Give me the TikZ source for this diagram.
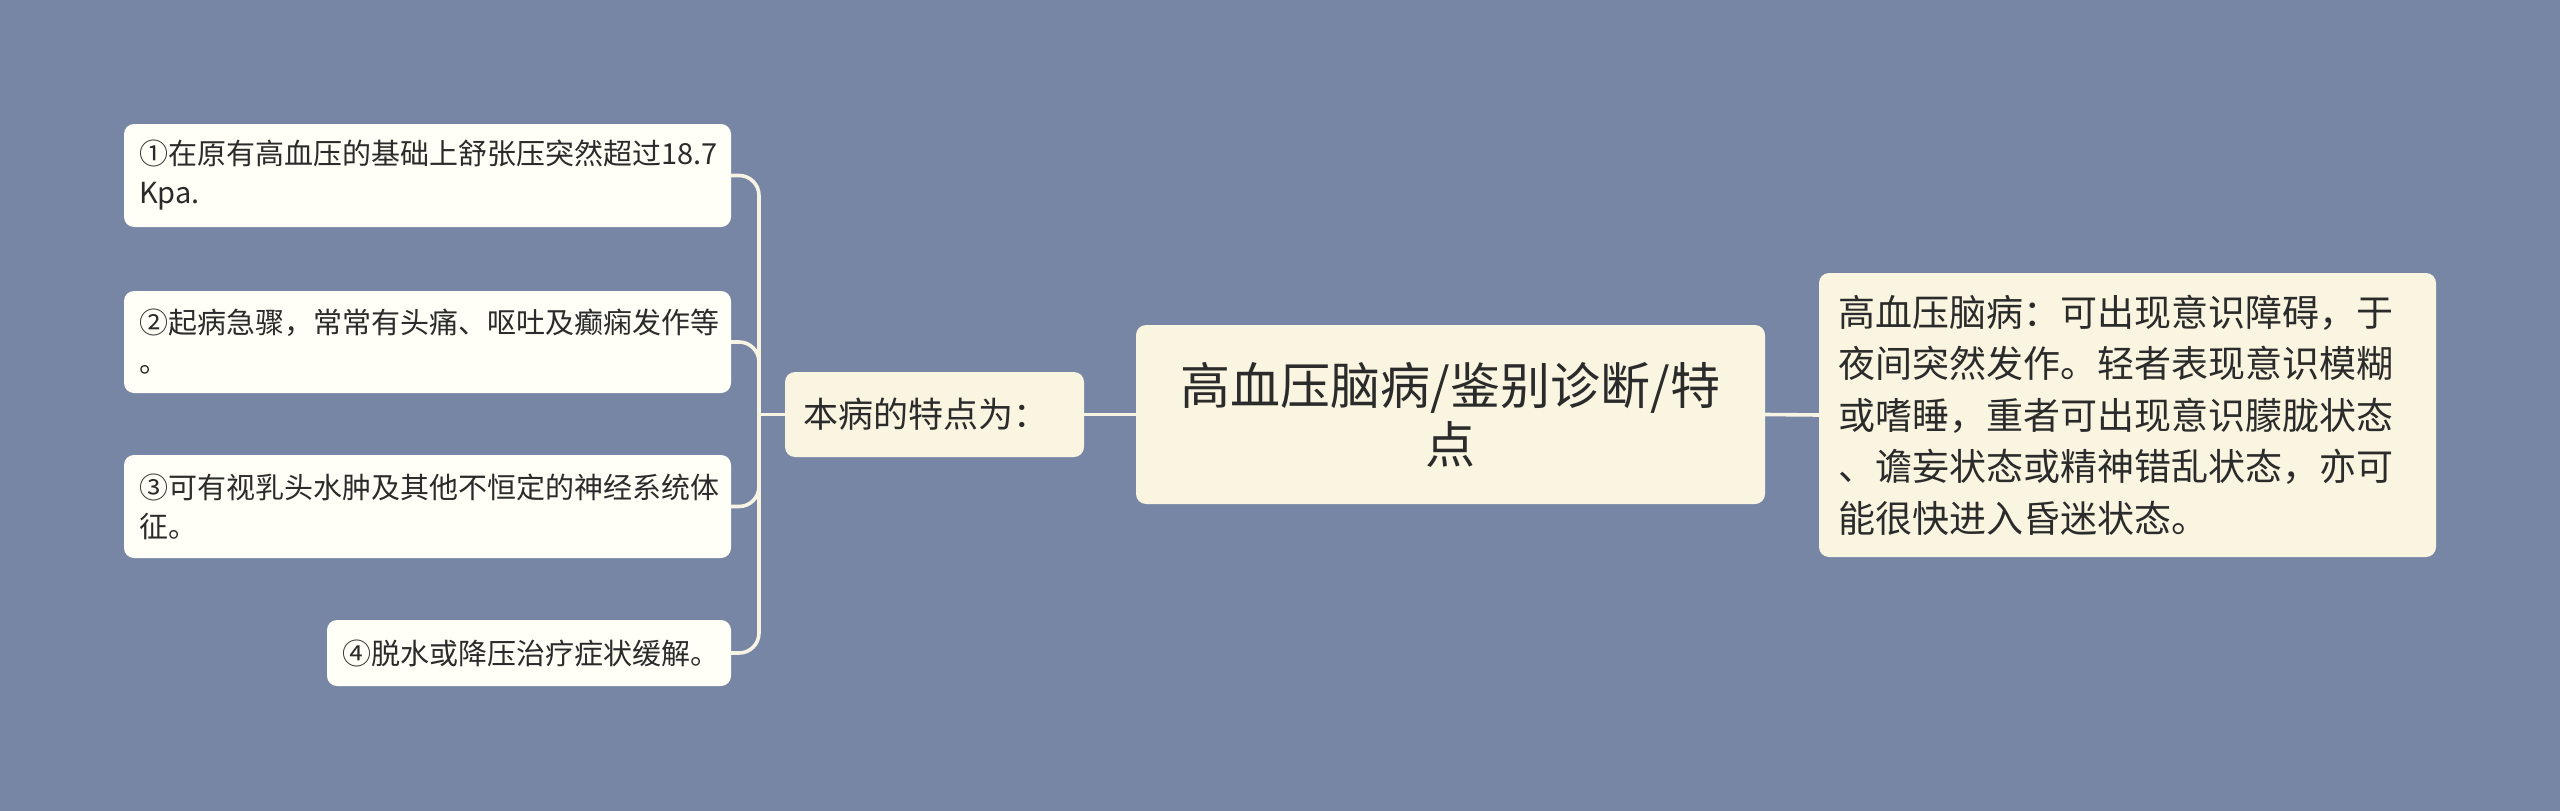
\documentclass[tikz,border=0pt]{standalone}
\usepackage{fontspec}
\setmainfont{Noto Sans CJK SC}
\definecolor{bg}{HTML}{7886A6}
\definecolor{leaffill}{HTML}{FFFFF7}
\definecolor{creamfill}{HTML}{FAF5E1}
\definecolor{linecol}{HTML}{F7F4E4}
\definecolor{txt}{HTML}{2B2B2B}
\begin{document}
\begin{tikzpicture}[x=1pt,y=-1pt,
  box/.style={rectangle, rounded corners=10pt, inner sep=0pt, text=txt},
  leaf/.style={box, fill=leaffill, font=\fontsize{29}{39}\selectfont, align=left},
  cream/.style={box, fill=creamfill},
  conn/.style={draw=linecol, line width=3.6pt, rounded corners=20pt}]
\useasboundingbox (0,0) rectangle (2560,811);
\fill[bg] (0,0) rectangle (2560,811);

\node[leaf, minimum width=607pt, minimum height=103pt, text width=577pt] (l1) at (427.5,175.5) {①在原有高血压的基础上舒张压突然超过18.7\\Kpa.};
\node[leaf, minimum width=607pt, minimum height=102pt, text width=577pt] (l2) at (427.5,342) {②起病急骤，常常有头痛、呕吐及癫痫发作等\\。};
\node[leaf, minimum width=607pt, minimum height=103pt, text width=577pt] (l3) at (427.5,506.5) {③可有视乳头水肿及其他不恒定的神经系统体\\征。};
\node[leaf, minimum width=404pt, minimum height=66pt, text width=374pt] (l4) at (529,653) {④脱水或降压治疗症状缓解。};

\node[cream, minimum width=299pt, minimum height=85pt, text width=263pt, align=left, font=\fontsize{35}{44}\selectfont] (mid) at (934.5,414.5) {本病的特点为：};
\node[cream, minimum width=629pt, minimum height=179pt, text width=600pt, align=center, font=\fontsize{50}{59}\selectfont] (root) at (1450.5,414.5) {高血压脑病/鉴别诊断/特\\点};
\node[cream, minimum width=617pt, minimum height=284pt, text width=579pt, align=left, font=\fontsize{37}{51.5}\selectfont] (right) at (2127.5,415) {高血压脑病：可出现意识障碍，于\\夜间突然发作。轻者表现意识模糊\\或嗜睡，重者可出现意识朦胧状态\\、谵妄状态或精神错乱状态，亦可\\能很快进入昏迷状态。};

\coordinate (j) at (759,414.5);
\draw[conn] (l1.east) -| (j);
\draw[conn] (l2.east) -| (j);
\draw[conn] (l3.east) -| (j);
\draw[conn] (l4.east) -| (j);
\draw[conn] (j) -- (mid.west);
\draw[conn] (mid.east) -- (root.west);
\draw[conn] (root.east) -- (right.west);
\end{tikzpicture}
\end{document}
